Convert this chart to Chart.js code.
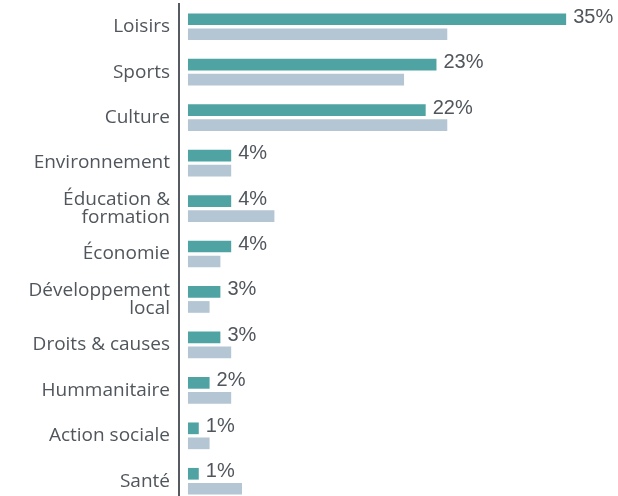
<!DOCTYPE html>
<html>
<head>
<meta charset="utf-8">
<script src="https://cdn.jsdelivr.net/npm/chart.js@4"></script>
<style>
    html, body { margin: 0; padding: 0; background: #fff; overflow: hidden; }
    #wrap { width: 618px; height: 504px; position: relative; }
</style>
</head>
<body>
<div id="wrap"><canvas id="chart"></canvas></div>
<script>
const categories = [
    'Loisirs', 'Sports', 'Culture', 'Environnement', ['Éducation &', 'formation'],
    'Économie', ['Développement', 'local'], 'Droits & causes', 'Hummanitaire',
    'Action sociale', 'Santé'
];
const mainValues = [35, 23, 22, 4, 4, 4, 3, 3, 2, 1, 1];   // teal, labelled
const compareValues = [24, 20, 24, 4, 8, 3, 2, 4, 4, 2, 5]; // grey-blue

const textColor = '#50565c';

// value labels to the right of the teal bars
const valueLabels = {
    id: 'valueLabels',
    afterDatasetsDraw(chart) {
        const ctx = chart.ctx;
        const meta = chart.getDatasetMeta(0);
        ctx.save();
        ctx.font = '20px "Liberation Sans", Arial, sans-serif';
        ctx.fillStyle = textColor;
        ctx.textAlign = 'left';
        ctx.textBaseline = 'middle';
        meta.data.forEach((bar, i) => {
            ctx.fillText(mainValues[i] + '%', bar.x + 7, bar.y - 2);
        });
        ctx.restore();
    }
};

new Chart(document.getElementById('chart').getContext('2d'), {
    type: 'bar',
    data: {
        labels: categories,
        datasets: [
            {
                data: mainValues,
                backgroundColor: '#4fa3a3',
                categoryPercentage: 0.66,
                barPercentage: 0.78
            },
            {
                data: compareValues,
                backgroundColor: '#b4c6d3',
                categoryPercentage: 0.66,
                barPercentage: 0.78
            }
        ]
    },
    options: {
        indexAxis: 'y',
        responsive: true,
        maintainAspectRatio: false,
        animation: false,
        layout: { padding: { top: 4, right: 0, bottom: 0, left: 0 } },
        plugins: {
            legend: { display: false },
            tooltip: { enabled: false }
        },
        scales: {
            x: {
                display: false,
                min: -0.83,
                max: 39.8
            },
            y: {
                grid: { display: false, drawTicks: false },
                border: { display: true, color: '#555b61', width: 2 },
                ticks: {
                    color: textColor,
                    padding: 9,
                    font: { family: '"Open Sans", sans-serif', size: 19, lineHeight: 0.95 }
                },
                afterFit: (scale) => {
                    scale.width = 179;
                    scale.paddingTop = 0;
                    scale.paddingBottom = 0;
                }
            }
        }
    },
    plugins: [valueLabels]
});
</script>
</body>
</html>
